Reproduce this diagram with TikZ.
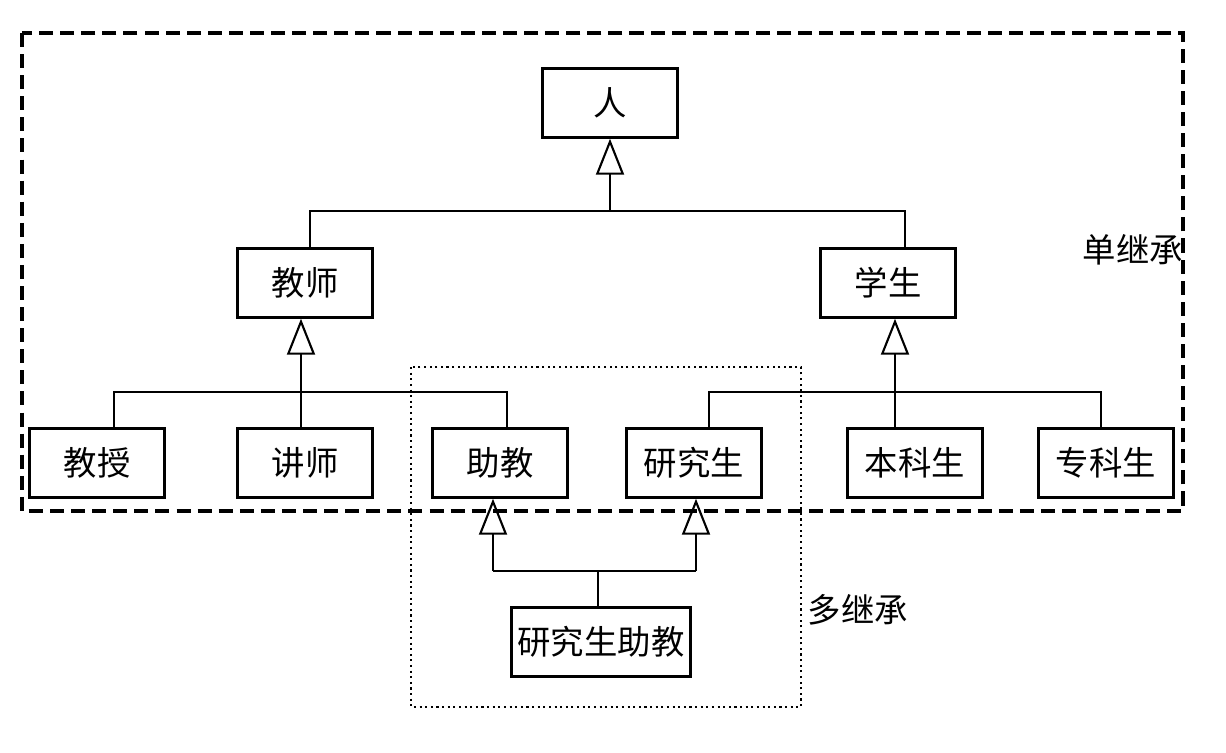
\documentclass[tikz,border=0pt]{standalone}
\usepackage{fontspec}
\setmainfont{Noto Sans CJK SC}
\usetikzlibrary{arrows.meta}
\tikzstyle{box} = [rectangle, minimum width=2.7cm, minimum height=1.38cm, text centered, draw=black, line width=1.4pt, font=\fontsize{19}{19}\selectfont]
\tikzstyle{arrow} = [line width=1.2pt,-{Triangle[open,length=0.72cm,width=0.56cm]}]
\tikzstyle{bar} = [line width=1.6pt]
\tikzstyle{lbl} = [font=\fontsize{19}{19}\selectfont]
\begin{document}
\begin{tikzpicture}[x=0.02cm, y=-0.02cm]
    \useasboundingbox (0,0) rectangle (1226,752);
    \node (ren) [box] at (610,103) {人};
    \node (jiaoshi) [box] at (305,283) {教师};
    \node (xuesheng) [box] at (888,283) {学生};
    \node (jiaoshou) [box] at (97,463) {教授};
    \node (jiangshi) [box] at (305,463) {讲师};
    \node (zhujiao) [box] at (500,463) {助教};
    \node (yanjiusheng) [box] at (694,463) {研究生};
    \node (benke) [box] at (915,463) {本科生};
    \node (zhuanke) [box] at (1106,463) {专科生};
    \node (yzj) [box, minimum width=3.3cm] at (601,642) {研究生助教};
    \coordinate (b1) at (610,211);
    \coordinate (b2) at (301,392);
    \coordinate (b3) at (895,392);
    \coordinate (b4) at (598,571);
    \coordinate (c1) at (493,571);
    \coordinate (c2) at (696,571);
    \draw [bar] (jiaoshi.north -| 310,0) |- (b1) -| (xuesheng.north -| 905,0);
    \draw [arrow] (b1) -- (ren.south -| b1);
    \draw [bar] (jiaoshou.north -| 114,0) |- (b2) -| (zhujiao.north -| 507,0);
    \draw [bar] (jiangshi.north -| b2) -- (b2);
    \draw [arrow] (b2) -- (jiaoshi.south -| b2);
    \draw [bar] (yanjiusheng.north -| 709,0) |- (b3) -| (zhuanke.north -| 1101,0);
    \draw [bar] (benke.north -| b3) -- (b3);
    \draw [arrow] (b3) -- (xuesheng.south -| b3);
    \draw [bar] (c1) -- (c2);
    \draw [bar] (yzj.north -| b4) -- (b4);
    \draw [arrow] (c1) -- (zhujiao.south -| c1);
    \draw [arrow] (c2) -- (yanjiusheng.south -| c2);
    \draw [line width=2pt, dash pattern=on 8pt off 4pt] (22,33) rectangle (1183,511);
    \draw [dotted, line width=1.2pt] (411,367) rectangle (801,707);
    \node (dan) [lbl] at (1133,250) {单继承};
    \node (duo) [lbl] at (858,610) {多继承};
\end{tikzpicture}
\end{document}
